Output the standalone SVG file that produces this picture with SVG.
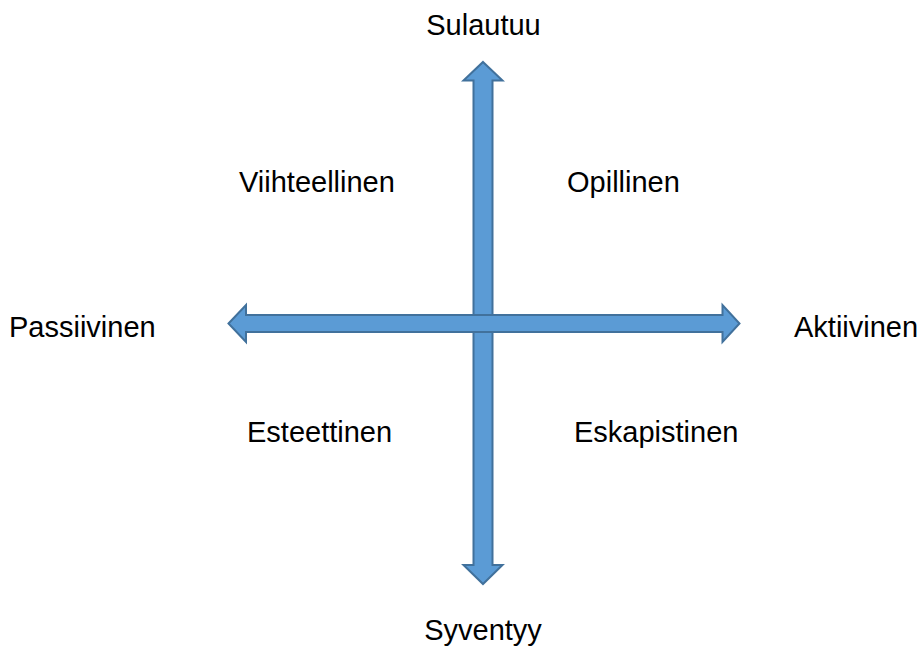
<svg xmlns="http://www.w3.org/2000/svg" width="920" height="648" viewBox="0 0 920 648">
  <style>
    .axis { fill: #5B9BD5; stroke: #41719C; stroke-width: 2; stroke-linejoin: miter; }
    .lbl { font-family: "Liberation Sans", Arial, sans-serif; font-size: 29px; fill: #000000; }
    .mid { text-anchor: middle; }
  </style>
  <rect width="920" height="648" fill="#ffffff"/>
  <g id="connectors">
    <!-- vertical double arrow -->
    <path id="axis-vertical" class="axis" d="M483,62 L502.5,80.5 L492.5,80.5 L492.5,565 L502.5,565 L483,584 L463.5,565 L473.5,565 L473.5,80.5 L463.5,80.5 Z"/>
    <!-- horizontal double arrow, drawn on top -->
    <path id="axis-horizontal" class="axis" d="M228.5,323.5 L246,305 L246,315 L722.5,315 L722.5,305 L739.5,323.5 L722.5,342 L722.5,332 L246,332 L246,342 Z"/>
  </g>
  <g id="node-sulautuu"><text class="lbl mid" x="483.5" y="35">Sulautuu</text></g>
  <g id="node-syventyy"><text class="lbl mid" x="483" y="640">Syventyy</text></g>
  <g id="node-passiivinen"><text class="lbl" x="9" y="337">Passiivinen</text></g>
  <g id="node-aktiivinen"><text class="lbl" x="794" y="337">Aktiivinen</text></g>
  <g id="node-viihteellinen"><text class="lbl" x="239" y="192">Viihteellinen</text></g>
  <g id="node-opillinen"><text class="lbl" x="567" y="192">Opillinen</text></g>
  <g id="node-esteettinen"><text class="lbl" x="247" y="442">Esteettinen</text></g>
  <g id="node-eskapistinen"><text class="lbl" x="574" y="442">Eskapistinen</text></g>
</svg>
